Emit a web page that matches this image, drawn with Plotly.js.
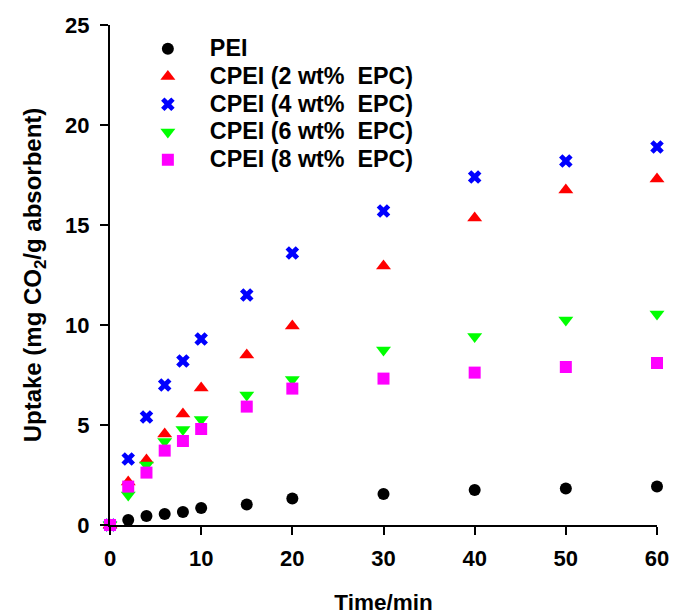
<!DOCTYPE html>
<html>
<head>
<meta charset="utf-8">
<script src="https://cdn.plot.ly/plotly-3.0.1.min.js"></script>
<style>html,body{margin:0;padding:0;background:#fff;}#chart{width:674px;height:615px;}</style>
</head>
<body>
<div id="chart"></div>
<script>
const time = [0, 2, 4, 6, 8, 10, 15, 20, 30, 40, 50, 60];
const pei   = [0, 0.25, 0.45, 0.55, 0.65, 0.85, 1.03, 1.33, 1.55, 1.75, 1.83, 1.93];
const cpei2 = [0, 2.15, 3.25, 4.55, 5.55, 6.85, 8.5, 9.95, 12.95, 15.35, 16.75, 17.3];
const cpei4 = [0, 3.3, 5.4, 7.0, 8.2, 9.3, 11.5, 13.6, 15.7, 17.4, 18.2, 18.9];
const cpei6 = [0, 1.5, 3.0, 4.17, 4.78, 5.28, 6.5, 7.28, 8.75, 9.42, 10.25, 10.55];
const cpei8 = [0, 1.92, 2.62, 3.72, 4.2, 4.8, 5.92, 6.82, 7.32, 7.62, 7.9, 8.1];
const names = ['PEI', 'CPEI (2 wt% EPC)', 'CPEI (4 wt% EPC)', 'CPEI (6 wt% EPC)', 'CPEI (8 wt% EPC)'];

const series = [pei, cpei2, cpei4, cpei6, cpei8];
const colors = ['#000000', '#ff0000', '#0000ff', '#00ff00', '#ff00ff'];
const symbols = ['circle', 'triangle-up', 'x', 'triangle-down', 'square'];
const sizes = [12, 13, 12, 13, 12];

const traces = series.map((s, i) => ({
  x: time, y: s, type: 'scatter', mode: 'markers',
  name: '<span style="font-size:23.3px">' + names[i].replace('% ', '%&nbsp; ') + '</span>',
  cliponaxis: false,
  marker: {symbol: symbols[i], color: colors[i], size: sizes[i], line: {width: 0}}
}));

const FAM = 'Liberation Sans, Arial, sans-serif';
const axisFont = {family: FAM, size: 22, color: '#000', weight: 'bold'};

const layout = {
  width: 674, height: 615,
  margin: {l: 110, r: 17, t: 25, b: 90},
  paper_bgcolor: '#fff', plot_bgcolor: '#fff',
  font: {family: FAM, color: '#000', weight: 'bold'},
  showlegend: true,
  legend: {x: 0.029, y: 0.99, xanchor: 'left', yanchor: 'top', bgcolor: 'rgba(0,0,0,0)',
           font: {family: FAM, size: 19, color: '#000', weight: 'bold'},
           itemwidth: 74},
  xaxis: {
    range: [0, 60], dtick: 10, tick0: 0, showgrid: false, zeroline: false,
    showline: true, linecolor: '#000', linewidth: 2,
    ticks: 'outside', ticklen: 8, tickwidth: 2, tickcolor: '#000',
    tickfont: axisFont, ticklabelstandoff: 5,
    title: {text: 'Time/min', font: {family: FAM, size: 22.5, color: '#000', weight: 'bold'}, standoff: 28}
  },
  yaxis: {
    range: [0, 25], dtick: 5, tick0: 0, showgrid: false, zeroline: false,
    showline: true, linecolor: '#000', linewidth: 2,
    ticks: 'outside', ticklen: 8, tickwidth: 2, tickcolor: '#000',
    tickfont: axisFont, ticklabelstandoff: 6,
    title: {text: 'Uptake (mg CO<sub>2</sub>/g absorbent)', font: {family: FAM, size: 24, color: '#000', weight: 'bold'}, standoff: 17}
  }
};

Plotly.newPlot('chart', traces, layout, {displayModeBar: false, staticPlot: true});
</script>
</body>
</html>
